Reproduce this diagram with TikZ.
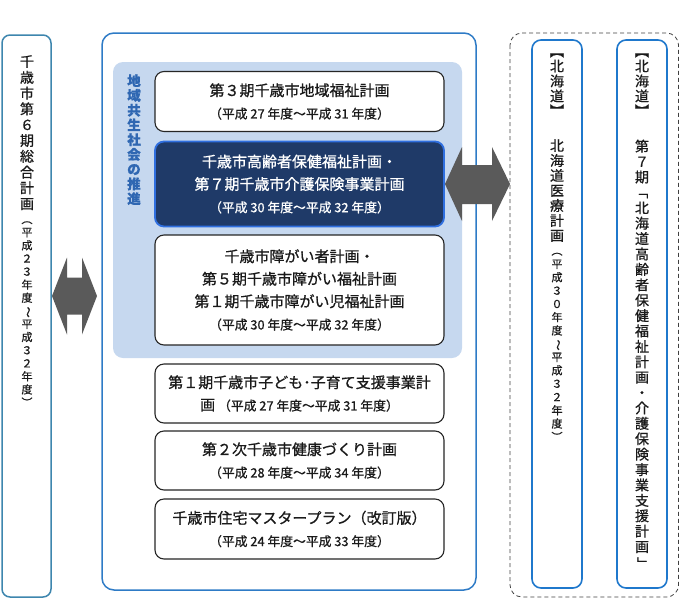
\documentclass[tikz,border=0pt]{standalone}
\usepackage{fontspec}
\setmainfont{Noto Sans CJK JP}[FakeBold=0.8]
\newfontfamily\heavyfont{Noto Sans CJK JP}[FakeBold=0.8]
\definecolor{lborder}{HTML}{3E86AE}
\definecolor{mborder}{HTML}{2E7BC6}
\definecolor{rborder}{HTML}{1F78CC}
\definecolor{lightblue}{HTML}{C6D8EF}
\definecolor{navy}{HTML}{1F3A68}
\definecolor{navyborder}{HTML}{2F6FE0}
\definecolor{labelblue}{HTML}{2F67B2}
\definecolor{arrowgray}{HTML}{5A5A5A}
\definecolor{txt}{HTML}{1A1A1A}
\newcommand\rt[1]{\rotatebox[origin=c]{-90}{#1}}
\newcommand\lgfont{\fontsize{15}{18}\selectfont}
% x, first y, pitch, style, name prefix, list
\newcommand\vcol[6]{\foreach \c [count=\i from 0] in {#6} \node[vch, #4] (#5\i) at (#1, #2+#3*\i) {\c};}
\begin{document}
\begin{tikzpicture}[x=1pt,y=-1pt,
  vch/.style={inner sep=0pt, text height=0.88em, text depth=0.12em, text=txt},
  bigv/.style={font=\heavyfont\fontsize{14}{14}\selectfont},
  smallv/.style={font=\heavyfont\fontsize{11}{11}\selectfont},
  wbox/.style={draw=black!85, line width=1.1pt, rounded corners=9pt, fill=white,
    minimum width=289pt, align=center, text=txt, inner sep=0pt,
    font=\heavyfont\fontsize{12.8}{22.5}\selectfont},
  darrow/.style={fill=arrowgray},
]
\useasboundingbox (0,0) rectangle (679,613);

% left column
\draw[lborder, line width=1.5pt, rounded corners=8pt] (2,35) rectangle (51,597);
\vcol{27}{63}{15.8}{bigv}{L}{千,歳,市,第,６,期,総,合,計,画}
\vcol{27}{219.5}{13.1}{smallv}{Ls}{\rt{（},平,成,２,３,年,度,\rt{～},平,成,３,２,年,度,\rt{）}}

% left double arrow
\fill[darrow] (52,296) -- (67,257.5) -- (67,277.5) -- (82,277.5) -- (82,257.5) -- (97,296)
  -- (82,334.5) -- (82,314.5) -- (67,314.5) -- (67,334.5) -- cycle;

% middle container
\draw[mborder, line width=1.5pt, rounded corners=12pt] (102,33) rectangle (476,590);
\fill[lightblue, rounded corners=10pt] (113,62) rectangle (462,358);
\vcol{134}{82}{14.75}{font=\bfseries\fontsize{13.5}{13.5}\selectfont, text=labelblue}{V}{地,域,共,生,社,会,の,推,進}

\node[wbox, minimum height=60pt] (b1) at (299.5,101.5)
  {{\lgfont 第３期千歳市地域福祉計画}\\（平成 27 年度～平成 31 年度）};
\node[wbox, draw=navyborder, line width=1.8pt, fill=navy, text=white, minimum height=85pt] (b2) at (299.5,184)
  {{\lgfont 千歳市高齢者保健福祉計画・}\\{\lgfont 第７期千歳市介護保険事業計画}\\（平成 30 年度～平成 32 年度）};
\node[wbox, minimum height=110pt] (b3) at (299.5,290)
  {{\lgfont 千歳市障がい者計画・}\\{\lgfont 第５期千歳市障がい福祉計画}\\{\lgfont 第１期千歳市障がい児福祉計画}\\（平成 30 年度～平成 32 年度）};
\node[wbox, minimum height=59pt] (b4) at (299.5,393.5)
  {{\lgfont 第１期千歳市子ども･子育て支援事業計}\\{\lgfont 画} （平成 27 年度～平成 31 年度）};
\node[wbox, minimum height=59pt] (b5) at (299.5,460.5)
  {{\lgfont 第２次千歳市健康づくり計画}\\（平成 28 年度～平成 34 年度）};
\node[wbox, minimum height=60pt] (b6) at (299.5,529)
  {{\lgfont 千歳市住宅マスタープラン（改訂版）}\\（平成 24 年度～平成 33 年度）};

% right double arrow
\fill[darrow] (445,184) -- (462,147) -- (462,165) -- (492,165) -- (492,147) -- (510,184)
  -- (492,221) -- (492,204) -- (462,204) -- (462,221) -- cycle;

% right dashed group
\draw[black!75, line width=0.8pt, dash pattern=on 4pt off 3pt, rounded corners=12pt] (510,33) rectangle (678.5,597);
\draw[rborder, line width=1.6pt, rounded corners=9pt] (532,40) rectangle (582,588);
\draw[rborder, line width=1.6pt, rounded corners=9pt] (617,40) rectangle (667,588);

\vcol{557}{52.5}{15}{bigv}{Aa}{\rt{【},北,海,道,\rt{】}}
\vcol{557}{147}{15}{bigv}{Ab}{北,海,道,医,療,計,画}
\vcol{557}{251}{13.3}{smallv}{Ac}{\rt{（},平,成,３,０,年,度,\rt{～},平,成,３,２,年,度,\rt{）}}

\vcol{642}{52.5}{15}{bigv}{Ba}{\rt{【},北,海,道,\rt{】}}
\vcol{642}{147.7}{15.4}{bigv}{Bb}{第,７,期,\rt{「},北,海,道,高,齢,者,保,健,福,祉,計,画,・,介,護,保,険,事,業,支,援,計,画,\rt{」}}
\end{tikzpicture}
\end{document}
